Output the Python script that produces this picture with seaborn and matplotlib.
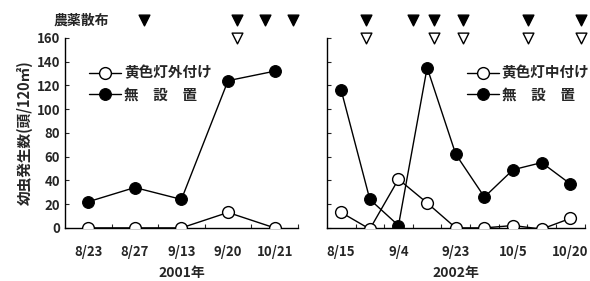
import numpy as np
import seaborn as sns
import matplotlib.pyplot as plt
from matplotlib.ticker import FixedLocator

sns.set_theme(style="ticks")
plt.rcParams['font.family'] = ['Noto Sans CJK JP', 'DejaVu Sans']
plt.rcParams['font.weight'] = 'bold'

# 2001
dates_2001 = ['8/23', '8/27', '9/13', '9/20', '10/21']
none_2001 = [22, 34, 24, 124, 132]
outer_2001 = [0, 0, 0, 13, 0]
spray_none_2001 = [1.2, 3.2, 3.8, 4.4]
spray_lamp_2001 = [3.2]

# 2002
dates_2002 = ['8/15', '', '9/4', '', '9/23', '', '10/5', '', '10/20']
none_2002 = [116, 24, 2, 135, 62, 26, 49, 55, 37]
inner_2002 = [13, -1, 41, 21, 0, 0, 2, -1, 8]
spray_none_2002 = [0.87, 2.5, 3.24, 4.25, 6.52, 8.36]
spray_lamp_2002 = [0.87, 3.24, 4.25, 6.52, 8.36]

fig = plt.figure(figsize=(5.9, 2.81), dpi=100)
ax1 = fig.add_axes([0.110, 0.189, 0.395, 0.676])
ax2 = fig.add_axes([0.554, 0.189, 0.437, 0.676])

fs = 9.5
lfs = 10.5


def draw(ax, dates, none, lamp, lamp_label, spray_none, spray_lamp, year):
    x = np.arange(len(dates))
    sns.lineplot(x=x, y=lamp, ax=ax, color='black', lw=1, marker='o', ms=8.5,
                 markerfacecolor='white', markeredgecolor='black', mew=1,
                 label=lamp_label, zorder=3)
    sns.lineplot(x=x, y=none, ax=ax, color='black', lw=1, marker='o', ms=8.5,
                 markerfacecolor='black', markeredgecolor='black',
                 label='無　設　置', zorder=3)
    ax.set_xlim(-0.5, len(dates) - 0.5)
    ax.set_ylim(0, 160)
    ax.set_xticks(x)
    ax.set_xticklabels(dates, fontsize=fs, fontweight='bold')
    ax.xaxis.set_minor_locator(FixedLocator(np.arange(0.5, len(dates), 1.0)))
    ax.tick_params(axis='x', which='major', length=0, pad=12)
    ax.tick_params(axis='x', which='minor', direction='in', length=3, width=0.8)
    ax.tick_params(axis='y', direction='in', length=3, width=0.8)
    ax.set_yticks(range(0, 161, 20))
    for s in ['top', 'right']:
        ax.spines[s].set_visible(False)
    for s in ['left', 'bottom']:
        ax.spines[s].set_linewidth(1)
        ax.spines[s].set_color('black')
    ax.set_xlabel(year, fontsize=10, fontweight='bold', labelpad=5)
    ax.scatter(spray_none, [175] * len(spray_none), marker='v', s=60,
               color='black', clip_on=False)
    ax.scatter(spray_lamp, [160] * len(spray_lamp), marker='v', s=60,
               facecolor='white', edgecolor='black', lw=1, clip_on=False)


draw(ax1, dates_2001, none_2001, outer_2001, '黄色灯外付け',
     spray_none_2001, spray_lamp_2001, '2001年')
draw(ax2, dates_2002, none_2002, inner_2002, '黄色灯中付け',
     spray_none_2002, spray_lamp_2002, '2002年')

ax1.set_yticklabels([str(v) for v in range(0, 161, 20)], fontsize=fs, fontweight='bold')
ax2.set_yticklabels([])
ax1.set_ylabel('幼虫発生数(頭/120㎡)', fontsize=lfs, fontweight='bold', labelpad=3)
ax1.text(-0.05, 175, '農薬散布', ha='left', va='center', fontsize=10,
         fontweight='bold', transform=ax1.get_yaxis_transform())

ax1.legend(loc='upper left', bbox_to_anchor=(0.08, 0.89), frameon=False,
           fontsize=lfs, handlelength=2.2, handletextpad=0.2, labelspacing=0.4,
           borderaxespad=0)
ax2.legend(loc='upper left', bbox_to_anchor=(0.52, 0.89), frameon=False,
           fontsize=lfs, handlelength=2.2, handletextpad=0.2, labelspacing=0.4,
           borderaxespad=0)

fig.savefig('out.png', dpi=100)
